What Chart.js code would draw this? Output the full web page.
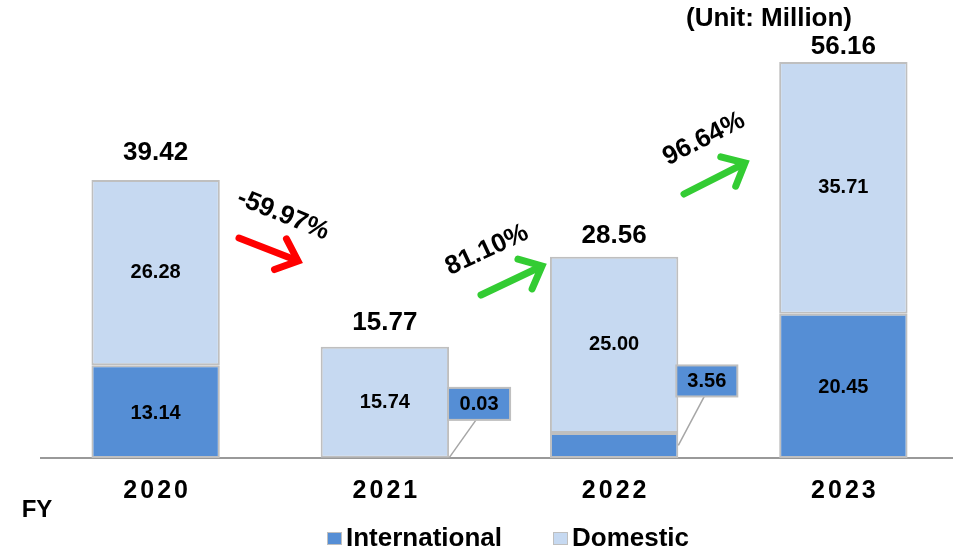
<!DOCTYPE html>
<html>
<head>
<meta charset="utf-8">
<script src="https://cdn.jsdelivr.net/npm/chart.js@4.4.1/dist/chart.umd.min.js"></script>
<style>
    body { margin: 0; background: #fff; overflow: hidden; }
    #wrap { position: relative; width: 958px; height: 549px; }
</style>
</head>
<body>
<div id="wrap"><canvas id="fy_chart"></canvas></div>
<script>
// passengers per fiscal year, millions
const years = ['2020', '2021', '2022', '2023'];
const international = [13.14, 0.03, 3.56, 20.45];
const domestic = [26.28, 15.74, 25.00, 35.71];
const growth = ['-59.97%', '81.10%', '96.64%'];
const unitLabel = '(Unit: Million)';
const axisTitle = 'FY';

const FONT = 'Arial, "Liberation Sans", sans-serif';
const INTL_COLOR = '#558ED5';
const DOM_COLOR = '#C6D9F1';
const EDGE_COLOR = '#BFBFBF';

// how far above the bar top each total sits
const totalOffset = [27, 24, 21, 15];

// small segments get a callout box instead of an inside label
const callouts = {
    1: {dx: -1, dy: -70, w: 62, h: 32, lead: 28},
    2: {dx: -2, dy: -80, w: 61, h: 31, lead: 28},
};

// growth arrows between the bars
const arrows = [
    {x1: 239, y1: 238, x2: 298, y2: 261, color: '#FF0000', tx: 283, ty: 215, rot: 22},
    {x1: 481, y1: 295, x2: 542, y2: 266, color: '#33CC33', tx: 487, ty: 250, rot: -25},
    {x1: 684, y1: 194, x2: 745, y2: 163, color: '#33CC33', tx: 704, ty: 139, rot: -27},
];

function drawArrow(ctx, a) {
    const ang = Math.atan2(a.y2 - a.y1, a.x2 - a.x1);
    const head = 25, spread = 0.72;
    ctx.save();
    ctx.strokeStyle = a.color;
    ctx.lineWidth = 7;
    ctx.lineCap = 'round';
    ctx.lineJoin = 'miter';
    ctx.beginPath();
    ctx.moveTo(a.x1, a.y1);
    ctx.lineTo(a.x2 - 4 * Math.cos(ang), a.y2 - 4 * Math.sin(ang));
    ctx.stroke();
    ctx.beginPath();
    ctx.moveTo(a.x2 - head * Math.cos(ang - spread), a.y2 - head * Math.sin(ang - spread));
    ctx.lineTo(a.x2, a.y2);
    ctx.lineTo(a.x2 - head * Math.cos(ang + spread), a.y2 - head * Math.sin(ang + spread));
    ctx.stroke();
    ctx.restore();
}

const annotations = {
    id: 'annotations',
    afterDatasetsDraw(chart) {
        const ctx = chart.ctx;
        const intlBars = chart.getDatasetMeta(0).data;
        const domBars = chart.getDatasetMeta(1).data;

        ctx.save();
        ctx.fillStyle = '#000';
        ctx.textAlign = 'center';
        ctx.textBaseline = 'middle';

        years.forEach((year, i) => {
            const ib = intlBars[i];
            const db = domBars[i];

            // domestic value inside its segment
            ctx.font = 'bold 20px ' + FONT;
            ctx.fillText(domestic[i].toFixed(2), db.x, (db.y + db.base) / 2);

            // international value, inside or as a callout
            const call = callouts[i];
            if (!call) {
                ctx.fillText(international[i].toFixed(2), ib.x, (ib.y + ib.base) / 2 + 2);
            } else {
                const right = ib.x + ib.width / 2;
                const mid = (ib.y + ib.base) / 2;
                const left = right + call.dx;
                const top = mid + call.dy;
                ctx.strokeStyle = '#A6A6A6';
                ctx.lineWidth = 1.5;
                ctx.beginPath();
                ctx.moveTo(left + call.lead, top + call.h);
                ctx.lineTo(right, mid);
                ctx.stroke();
                ctx.fillStyle = INTL_COLOR;
                ctx.fillRect(left, top, call.w, call.h);
                ctx.strokeStyle = EDGE_COLOR;
                ctx.lineWidth = 2;
                ctx.strokeRect(left, top, call.w, call.h);
                ctx.fillStyle = '#000';
                ctx.fillText(international[i].toFixed(2), left + call.w / 2, top + call.h / 2 + 1);
            }

            // total on top
            ctx.font = 'bold 26px ' + FONT;
            const total = international[i] + domestic[i];
            ctx.fillText(total.toFixed(2), db.x, db.y - totalOffset[i]);

            // year under the axis
            ctx.font = 'bold 25px ' + FONT;
            ctx.letterSpacing = '3px';
            ctx.fillText(year, db.x + 1.5, 491);
            ctx.letterSpacing = '0px';
        });

        arrows.forEach((a, i) => {
            drawArrow(ctx, a);
            ctx.save();
            ctx.translate(a.tx, a.ty);
            ctx.rotate(a.rot * Math.PI / 180);
            ctx.font = 'bold 26px ' + FONT;
            ctx.fillStyle = '#000';
            ctx.fillText(growth[i], 0, 0);
            ctx.restore();
        });

        ctx.font = 'bold 26px ' + FONT;
        ctx.fillText(unitLabel, 769, 19);
        ctx.font = 'bold 24px ' + FONT;
        ctx.fillText(axisTitle, 37, 510);

        // legend
        ctx.textAlign = 'left';
        ctx.font = 'bold 26px ' + FONT;
        [['International', INTL_COLOR, 327], ['Domestic', DOM_COLOR, 553]].forEach(([label, color, x]) => {
            ctx.fillStyle = color;
            ctx.fillRect(x, 532, 15, 13);
            ctx.strokeStyle = EDGE_COLOR;
            ctx.lineWidth = 1;
            ctx.strokeRect(x + 0.5, 532.5, 14, 12);
            ctx.fillStyle = '#000';
            ctx.fillText(label, x + 19, 539);
        });

        ctx.restore();
    }
};

new Chart('fy_chart', {
    type: 'bar',
    data: {
        labels: years,
        datasets: [{
            label: 'International',
            data: international,
            backgroundColor: INTL_COLOR,
            borderColor: EDGE_COLOR,
            borderWidth: 2,
            borderSkipped: false,
        }, {
            label: 'Domestic',
            data: domestic,
            backgroundColor: DOM_COLOR,
            borderColor: EDGE_COLOR,
            borderWidth: 2,
            borderSkipped: false,
        }]
    },
    options: {
        responsive: true,
        maintainAspectRatio: false,
        animation: false,
        layout: {padding: {top: 35, bottom: 91, left: 41, right: 0}},
        datasets: {bar: {categoryPercentage: 1, barPercentage: 0.56}},
        plugins: {
            legend: {display: false},
            tooltip: {enabled: false},
        },
        scales: {
            x: {
                stacked: true,
                grid: {display: false, drawTicks: false},
                ticks: {display: false},
                border: {display: true, color: '#999999', width: 2},
            },
            y: {
                stacked: true,
                display: false,
                min: 0,
                max: 60,
            }
        }
    },
    plugins: [annotations]
});
</script>
</body>
</html>
